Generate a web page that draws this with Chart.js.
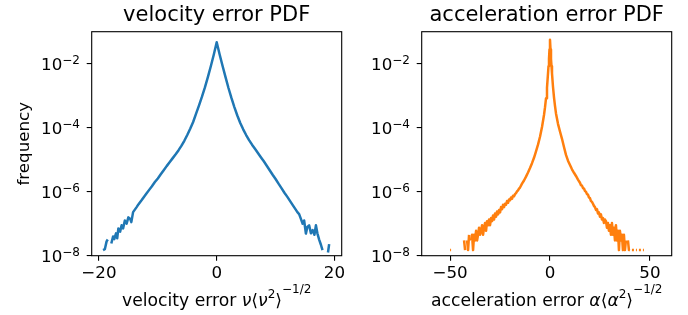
<!DOCTYPE html>
<html>
<head>
<meta charset="utf-8">
<script src="https://cdn.jsdelivr.net/npm/chart.js@4"></script>
<style>
  html, body { margin: 0; padding: 0; background: #fff; }
  #wrap { position: relative; width: 688px; height: 315px; }
  canvas { position: absolute; left: 0; top: 0; }
</style>
</head>
<body>
<div id="wrap">
  <canvas id="velChart" width="688" height="315"></canvas>
  <canvas id="accChart" width="688" height="315"></canvas>
</div>
<script>
// velocity error PDF (bin centre, frequency)
const velX = [-19.3, -19.0, -18.7, -18.5, -18.2, -17.9, -17.6, -17.4, -17.1, -16.9, -16.7, -16.4, -16.15, -15.9, -15.6, -15.3, -15.0, -14.7, -14.5, -14.2, -13.9, -13.6, -13.3, -13.05, -12.7, -12.3, -11.9, -11.5, -11.0, -10.5, -10.0, -9.5, -9.0, -8.5, -8.0, -7.5, -7.0, -6.5, -6.0, -5.5, -5.0, -4.5, -4.0, -3.5, -3.0, -2.5, -2.0, -1.5, -1.0, -0.5, 0,
  0.5, 1.0, 1.5, 2.0, 2.5, 3.0, 3.5, 4.0, 4.5, 5.0, 5.5, 6.0, 6.5, 7.0, 7.5, 8.0, 8.5, 9.0, 9.5, 10.0, 10.5, 11.0, 11.5, 12.0, 12.5, 13.0, 13.4, 13.7, 14.0, 14.3, 14.6, 14.85, 15.15, 15.4, 15.7, 16.0, 16.3, 16.6, 16.85, 17.1, 17.4, 17.7, 17.97, 18.2, 18.6, 18.9, 19.1, 19.3];
const velY = [1.5e-8, 1.6e-8, 2.8e-8, 3.2e-8, 0, 2.4e-8, 4.0e-8, 3.3e-8, 5.0e-8, 3.5e-8, 7.1e-8, 5.6e-8, 8.9e-8, 7.1e-8, 1.26e-7, 1.0e-7, 1.58e-7, 1.41e-7, 1.12e-7, 2.3e-7, 2.75e-7, 3.3e-7, 4.0e-7, 4.6e-7, 5.6e-7, 7.1e-7, 8.9e-7, 1.12e-6, 1.48e-6, 2.0e-6, 2.6e-6, 3.5e-6, 4.7e-6, 6.3e-6, 8.3e-6, 1.1e-5, 1.45e-5, 1.95e-5, 2.7e-5, 3.9e-5, 5.9e-5, 9.3e-5, 1.51e-4, 2.75e-4, 5.0e-4, 9.3e-4, 1.82e-3, 3.8e-3, 8.3e-3, 1.9e-2, 4.7e-2,
  1.95e-2, 8.5e-3, 3.8e-3, 1.74e-3, 8.5e-4, 4.4e-4, 2.4e-4, 1.41e-4, 8.9e-5, 5.9e-5, 4.1e-5, 2.95e-5, 2.2e-5, 1.62e-5, 1.2e-5, 8.9e-6, 6.5e-6, 4.7e-6, 3.4e-6, 2.5e-6, 1.78e-6, 1.29e-6, 9.3e-7, 6.9e-7, 5.0e-7, 3.6e-7, 2.8e-7, 2.3e-7, 2.0e-7, 1.41e-7, 1.0e-7, 1.26e-7, 4.9e-8, 7.9e-8, 8.9e-8, 5.0e-8, 6.3e-8, 4.5e-8, 8.9e-8, 5.0e-8, 3.2e-8, 2.2e-8, 1.5e-8, 0, 0, 1.26e-8, 2.3e-8, 0];

// acceleration error PDF (bin centre, frequency)
const accX = [-58.5, -56, -53, -50.5, -50, -49.5, -49, -47, -46.5, -46, -45.5, -45, -44.5, -44, -43.5, -43, -42.5, -42, -41.5, -41, -40.5, -40, -39.5, -39, -38.5, -38, -37.5, -37, -36.5, -36, -35.5, -35, -34.5, -34, -33.5, -33, -32.5, -32, -31.5, -31, -30.5, -30, -29.5, -29, -28.5, -28, -27.5, -27, -26.5, -26, -25.5, -25, -24.5, -24, -23.5, -23, -22.5, -22, -21.5, -21, -20.5, -20, -19.5, -19, -18.5, -18, -17.5, -17, -16.5, -16, -15.5, -15,
  -14, -13, -12, -11, -10, -9, -8, -7, -6, -5, -4, -3, -2.5, -2, -1.5, -1, -0.75, -0.5, -0.25, 0, 0.25, 0.5, 0.75, 1, 1.5, 2, 2.5, 3, 4, 5, 6, 7, 8, 9, 10, 11, 12, 13, 14, 15,
  15.5, 16, 16.5, 17, 17.5, 18, 18.5, 19, 19.5, 20, 20.5, 21, 21.5, 22, 22.5, 23, 23.5, 24, 24.5, 25, 25.5, 26, 26.5, 27, 27.5, 28, 28.5, 29, 29.5, 30, 30.5, 31, 31.5, 32, 32.5, 33, 33.5, 34, 34.5, 35, 35.5, 36, 36.5, 37, 37.5, 38, 38.5, 39, 39.5, 40, 40.5, 41, 41.5, 42, 42.5, 43, 43.5, 44, 44.5, 45, 45.5, 46, 46.5, 47, 47.5, 48, 48.5, 50, 52.5, 53, 53.5, 55.2];
const accY = [0, 0, 0, 0, 1.5e-8, 1.5e-8, 0, 0, 0, 1.5e-8, 0, 3e-8, 0, 1.5e-8, 0, 3e-8, 1.5e-8, 0, 3e-8, 1.5e-8, 4.5e-8, 0, 3e-8, 4.5e-8, 1.5e-8, 4.5e-8, 3e-8, 6e-8, 3e-8, 4.5e-8, 7.5e-8, 4.5e-8, 6e-8, 9e-8, 4.5e-8, 7.5e-8, 1.05e-7, 6e-8, 1.2e-7, 9e-8, 1.35e-7, 9e-8, 1.5e-7, 1.2e-7, 1.8e-7, 1.35e-7, 2.1e-7, 1.65e-7, 2.4e-7, 1.95e-7, 2.7e-7, 2.25e-7, 3.3e-7, 2.85e-7, 3.9e-7, 3.3e-7, 4.2e-7, 3.9e-7, 5.1e-7, 4.5e-7, 5.7e-7, 5.4e-7, 6.6e-7, 6.0e-7, 7.5e-7, 7.2e-7, 8.4e-7, 9.0e-7, 1.02e-6, 1.1e-6, 1.25e-6, 1.35e-6,
  1.78e-6, 2.24e-6, 2.95e-6, 3.98e-6, 5.5e-6, 7.8e-6, 1.15e-5, 1.82e-5, 2.95e-5, 5.2e-5, 1.05e-4, 2.5e-4, 4.3e-4, 8.3e-4, 1.78e-3, 4.9e-3, 8.3e-3, 1.41e-2, 2.8e-2, 5.6e-2, 2.8e-2, 1.41e-2, 8.3e-3, 5.0e-3, 1.9e-3, 8.9e-4, 4.8e-4, 2.8e-4, 1.32e-4, 7.6e-5, 4.5e-5, 2.5e-5, 1.41e-5, 9.3e-6, 6.8e-6, 5.0e-6, 3.9e-6, 3.1e-6, 2.4e-6, 1.9e-6,
  1.6e-6, 1.55e-6, 1.3e-6, 1.25e-6, 1.05e-6, 1.0e-6, 8.4e-7, 8.1e-7, 6.6e-7, 6.3e-7, 5.1e-7, 4.8e-7, 4.2e-7, 3.6e-7, 3.3e-7, 2.7e-7, 2.85e-7, 2.1e-7, 2.25e-7, 1.65e-7, 1.95e-7, 1.35e-7, 1.5e-7, 1.05e-7, 1.35e-7, 1.2e-7, 7.5e-8, 1.05e-7, 6e-8, 9e-8, 4.5e-8, 1.05e-7, 4.5e-8, 7.5e-8, 3e-8, 9e-8, 3e-8, 6e-8, 1.5e-8, 6e-8, 3e-8, 4.5e-8, 1.5e-8, 4.5e-8, 1.5e-8, 3e-8, 0, 3e-8, 1.5e-8, 1.5e-8, 0, 1.5e-8, 1.5e-8, 1.5e-8, 0, 1.5e-8, 1.5e-8, 0, 1.5e-8, 1.5e-8, 1.5e-8, 0, 1.5e-8, 1.5e-8, 0, 1.5e-8, 0, 0, 0, 1.5e-8, 0, 0];

// axis ticks
const yTickVals = [1e-8, 1e-6, 1e-4, 1e-2];
const yTickExp = ["\u22128", "\u22126", "\u22124", "\u22122"];
const velTicks = [-20, 0, 20];
const accTicks = [-50, 0, 50];

const FONT = '"DejaVu Sans", sans-serif';
Chart.defaults.font.family = FONT;
Chart.defaults.font.size = 16.7;
Chart.defaults.color = "#000";

const normal = `16.7px ${FONT}`;
const labelFont = `17.2px ${FONT}`;
const italic = `oblique 17.2px ${FONT}`;
const small = `12px ${FONT}`;

// draws a label made of pieces (normal / italic / superscript)
function drawPieces(ctx, pieces, x0, baseY, align) {
  let total = 0;
  pieces.forEach((p) => {
    ctx.font = p.font;
    p.w = ctx.measureText(p.t).width;
    total += p.w;
  });
  let x = align === "right" ? x0 - total : x0 - total / 2;
  ctx.textAlign = "left";
  ctx.textBaseline = "alphabetic";
  pieces.forEach((p) => {
    ctx.font = p.font;
    ctx.fillText(p.t, x, baseY + (p.dy || 0));
    x += p.w;
  });
}

const frameAndText = {
  id: "frameAndText",
  afterDatasetsDraw(chart, args, opts) {
    const { ctx, chartArea: a } = chart;
    ctx.save();
    ctx.strokeStyle = "#000";
    ctx.lineWidth = 1.1;
    ctx.strokeRect(a.left, a.top, a.right - a.left, a.bottom - a.top);

    ctx.fillStyle = "#000";
    ctx.font = `21px ${FONT}`;
    ctx.textAlign = "center";
    ctx.textBaseline = "alphabetic";
    ctx.fillText(opts.title, (a.left + a.right) / 2, 21);

    // y tick labels as 10^n
    const ys = chart.scales.y;
    ys.ticks.forEach((t, i) => {
      const py = ys.getPixelForValue(t.value);
      drawPieces(ctx, [
        { t: "10", font: normal },
        { t: yTickExp[i], font: small, dy: -5.5 },
      ], a.left - 11.7, py + 6, "right");
    });

    drawPieces(ctx, opts.xlabel, (a.left + a.right) / 2, 306);

    if (opts.ylabel) {
      ctx.translate(28.5, (a.top + a.bottom) / 2);
      ctx.rotate(-Math.PI / 2);
      ctx.font = normal;
      ctx.textAlign = "center";
      ctx.fillText(opts.ylabel, 0, 0);
    }
    ctx.restore();
  },
};

function makeChart(id, xs, ys, color, xMin, xMax, xTicks, axLeft, axRight, title, xlabel, ylabel) {
  const points = xs.map((x, i) => ({ x: x, y: ys[i] }));
  return new Chart(document.getElementById(id), {
    type: "line",
    data: {
      datasets: [
        {
          data: points,
          borderColor: color,
          borderWidth: 2.5,
          borderJoinStyle: "round",
          pointRadius: 0,
          tension: 0,
          fill: false,
          clip: 0,
        },
      ],
    },
    options: {
      responsive: false,
      animation: false,
      devicePixelRatio: 1,
      layout: { padding: { left: 0, top: 31.7, right: 688 - axRight, bottom: 0 } },
      plugins: {
        legend: { display: false },
        tooltip: { enabled: false },
        frameAndText: { title: title, xlabel: xlabel, ylabel: ylabel },
      },
      scales: {
        x: {
          type: "linear",
          min: xMin,
          max: xMax,
          afterBuildTicks: (s) => { s.ticks = xTicks.map((v) => ({ value: v })); },
          afterFit: (s) => { s.height = 315 - 255.7; },
          grid: { drawOnChartArea: false, drawTicks: true, tickLength: 5, color: "#000", lineWidth: 1.1 },
          border: { display: false },
          ticks: {
            padding: 3,
            maxRotation: 0,
            callback: (v) => (v < 0 ? "\u2212" + Math.abs(v) : String(v)),
          },
        },
        y: {
          type: "logarithmic",
          min: 1e-8,
          max: 1e-1,
          afterBuildTicks: (s) => { s.ticks = yTickVals.map((v) => ({ value: v })); },
          afterFit: (s) => { s.width = axLeft; },
          grid: { drawOnChartArea: false, drawTicks: true, tickLength: 5, color: "#000", lineWidth: 1.1 },
          border: { display: false },
          ticks: { display: false },
        },
      },
    },
    plugins: [frameAndText],
  });
}

makeChart("velChart", velX, velY, "#1f77b4", -21.23, 21.23, velTicks, 91.7, 341.7,
  "velocity error PDF",
  [
    { t: "velocity error ", font: labelFont },
    { t: "\u03BD", font: italic },
    { t: "\u27E8", font: labelFont },
    { t: "\u03BD", font: italic },
    { t: "2", font: small, dy: -8 },
    { t: "\u27E9", font: labelFont },
    { t: "\u22121/2", font: small, dy: -13 },
  ],
  "frequency");

makeChart("accChart", accX, accY, "#ff7f0e", -64.2, 60.9, accTicks, 421.7, 671.7,
  "acceleration error PDF",
  [
    { t: "acceleration error ", font: labelFont },
    { t: "\u03B1", font: italic },
    { t: "\u27E8", font: labelFont },
    { t: "\u03B1", font: italic },
    { t: "2", font: small, dy: -8 },
    { t: "\u27E9", font: labelFont },
    { t: "\u22121/2", font: small, dy: -13 },
  ],
  null);
</script>
</body>
</html>
